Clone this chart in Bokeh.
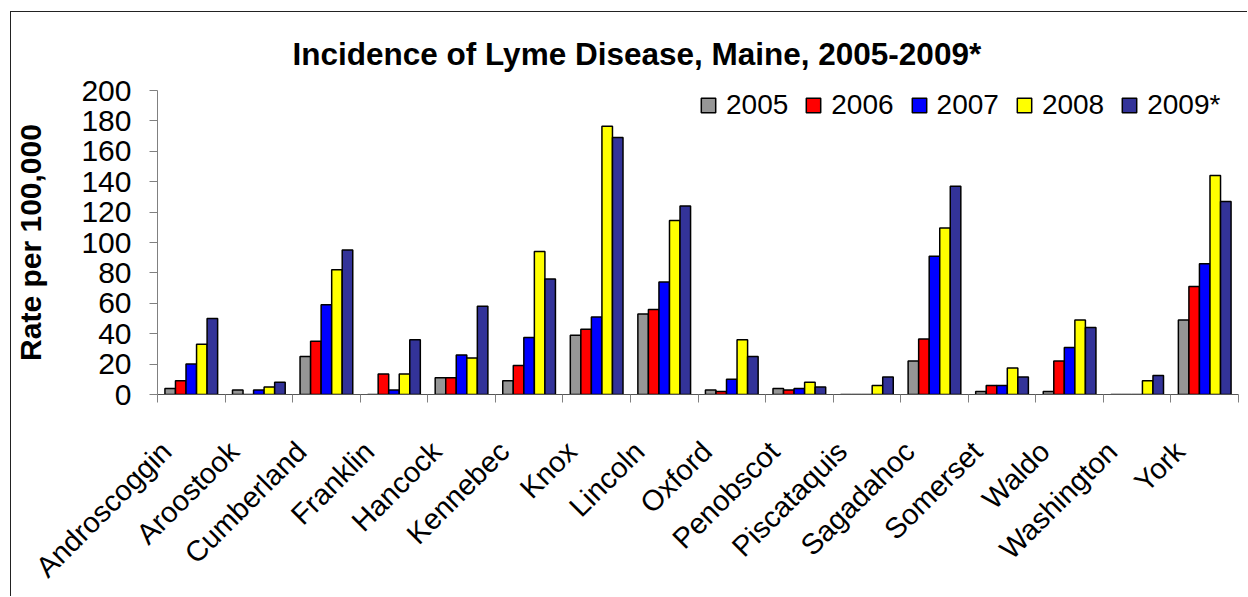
import numpy as np
from math import pi
from bokeh.plotting import figure
from bokeh.models import (ColumnDataSource, Range1d, LinearAxis, FixedTicker, Legend,
                          LegendItem, CustomJSTickFormatter)
from bokeh.transform import dodge
from bokeh.embed import file_html
from bokeh.resources import INLINE

counties = ["Androscoggin", "Aroostook", "Cumberland", "Franklin", "Hancock", "Kennebec",
            "Knox", "Lincoln", "Oxford", "Penobscot", "Piscataquis", "Sagadahoc",
            "Somerset", "Waldo", "Washington", "York"]
years = ["2005", "2006", "2007", "2008", "2009*"]
y2005 = [4, 3, 25, 0, 11, 9, 39, 53, 3, 4, 0, 22, 2, 2, 0, 49]
y2006 = [9, 0, 35, 13.5, 11, 19, 43, 56, 2, 3, 0, 36.5, 6, 22, 0, 71]
y2007 = [20, 3, 59, 3, 26, 37.5, 51, 74, 10, 4, 0, 91, 6, 31, 0, 86]
y2008 = [33, 5, 82, 13.5, 24, 94, 176.5, 114.5, 36, 8, 6, 109.5, 17.5, 49, 9, 144]
y2009 = [50, 8, 95, 36, 58, 76, 169, 124, 25, 5, 11.5, 137, 11.5, 44, 12.5, 127]
colors = ["#969696", "#FF0000", "#0000FF", "#FFFF00", "#333399"]
yticks = list(range(0, 201, 20))

n = len(counties)
centers = (np.arange(n) + 0.5).tolist()
bounds = list(range(n + 1))
# label anchors sit slightly left of the group centres (Excel-style rotated labels)
LABEL_SHIFT = 0.37
label_pos = (np.arange(n) + 0.5 - LABEL_SHIFT).tolist()
src = ColumnDataSource(dict(x=centers, county=counties, y2005=y2005, y2006=y2006,
                            y2007=y2007, y2008=y2008, y2009=y2009))
cols = ["y2005", "y2006", "y2007", "y2008", "y2009"]

FONT = "Liberation Sans"

p = figure(x_range=Range1d(0, n), y_range=Range1d(0, 200),
           width=1237, height=585, output_backend="svg", toolbar_location=None,
           x_axis_location=None, y_axis_location="left",
           min_border_left=144, min_border_top=78, min_border_right=10, min_border_bottom=200,
           title="Incidence of Lyme Disease, Maine, 2005-2009*")
p.styles = {"border-top": "1.5px solid #222", "border-left": "1.5px solid #222",
            "margin-left": "10px", "margin-top": "11px"}

p.title.text_font = FONT
p.title.text_font_size = "31.5px"
p.title.text_font_style = "bold"
p.title.text_color = "black"
p.title.align = "left"
p.title.offset = 135
p.title.standoff = 38

p.outline_line_color = None
p.xgrid.visible = False
p.ygrid.visible = False
p.background_fill_color = "white"
p.border_fill_color = "white"

w = 0.156
offs = [-2 * w, -w, 0, w, 2 * w]
items = []
for col, yr, c, o in zip(cols, years, colors, offs):
    r = p.vbar(x=dodge("x", o), top=col, width=w, source=src,
               fill_color=c, line_color="black", line_width=1.5)
    items.append(LegendItem(label=yr, renderers=[r]))

# county labels, ticks between counties
xa = LinearAxis(ticker=FixedTicker(ticks=label_pos, minor_ticks=bounds),
                formatter=CustomJSTickFormatter(args=dict(labels=counties, shift=LABEL_SHIFT),
                                                code="return labels[Math.round(tick + shift - 0.5)] || ''"),
                major_tick_line_color=None, major_tick_out=0, major_tick_in=0,
                minor_tick_line_color="#808080", minor_tick_out=8, minor_tick_in=0,
                axis_line_color="#555555",
                major_label_orientation=pi / 4, major_label_text_font=FONT,
                major_label_text_font_size="29px", major_label_text_color="black",
                major_label_standoff=44)
p.add_layout(xa, "below")

ya = p.yaxis[0]
ya.ticker = FixedTicker(ticks=yticks)
ya.major_tick_out = 8
ya.major_tick_in = 0
ya.minor_tick_line_color = None
ya.axis_line_color = "#808080"
ya.major_tick_line_color = "#808080"
ya.major_label_text_font = FONT
ya.major_label_text_font_size = "30px"
ya.major_label_text_color = "black"
ya.major_label_standoff = 18
ya.axis_label = "Rate per 100,000"
ya.axis_label_text_font = FONT
ya.axis_label_text_font_size = "30px"
ya.axis_label_text_font_style = "bold"
ya.axis_label_text_color = "black"
ya.axis_label_standoff = 31

leg = Legend(items=items, orientation="horizontal", location=(542, 273),
             border_line_color=None, background_fill_alpha=0, padding=0, margin=0,
             glyph_width=18, glyph_height=18, label_standoff=9, spacing=16,
             label_text_font=FONT, label_text_font_size="28px", label_text_color="black")
p.add_layout(leg, "center")

open("out.html", "w").write(file_html(p, INLINE))
